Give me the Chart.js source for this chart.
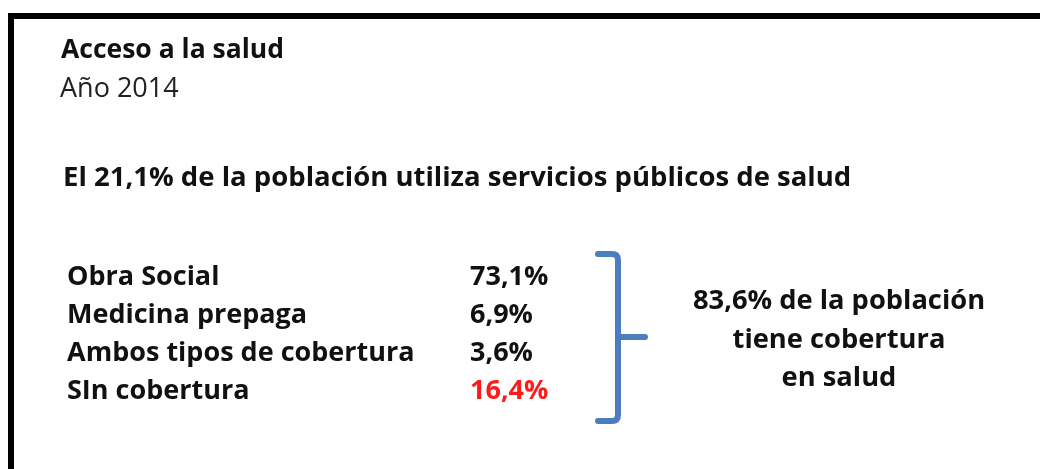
<!DOCTYPE html>
<html>
<head>
<meta charset="utf-8">
<script src="https://cdn.jsdelivr.net/npm/chart.js@4"></script>
<style>
    body { margin: 0; background: #ffffff; }
    #wrap { position: relative; width: 1040px; height: 469px; }
</style>
</head>
<body>
<div id="wrap"><canvas id="chart"></canvas></div>
<script>
const TITLE = "Acceso a la salud";
const SUBTITLE = "Año 2014";
const PUBLIC_SHARE = 21.1; // % que usa servicios públicos
const CATEGORIES = ["Obra Social", "Medicina prepaga", "Ambos tipos de cobertura", "SIn cobertura"];
const VALUES = [73.1, 6.9, 3.6, 16.4];
const COVERED = [true, true, true, false];

const FONT = "'Open Sans'";
const BLUE = "#4a7ebf";

// 73,1% style
function pct(v) {
    return v.toFixed(1).replace(".", ",") + "%";
}

// everything the bar chart itself does not draw
const infoPlugin = {
    id: "info",
    afterDraw(chart) {
        const ctx = chart.ctx;
        const area = chart.chartArea;
        const y = chart.scales.y;

        ctx.save();

        // frame
        ctx.fillStyle = "#000000";
        ctx.fillRect(8, 13, 1032, 6);
        ctx.fillRect(8, 13, 6, 456);

        // headings
        ctx.textAlign = "left";
        ctx.textBaseline = "alphabetic";
        ctx.fillStyle = "#111111";
        ctx.font = "bold 26.5px " + FONT;
        ctx.fillText(TITLE, 61, 58);
        ctx.font = "27px " + FONT;
        ctx.fillStyle = "#222222";
        ctx.fillText(SUBTITLE, 60, 97);

        ctx.fillStyle = "#111111";
        ctx.font = "bold 27.5px " + FONT;
        ctx.fillText("El " + pct(PUBLIC_SHARE) + " de la población utiliza servicios públicos de salud", 63, 186);

        // values next to each category
        ctx.font = "bold 27px " + FONT;
        ctx.textBaseline = "middle";
        for (let i = 0; i < VALUES.length; i++) {
            ctx.fillStyle = COVERED[i] ? "#111111" : "#ff1a1a";
            ctx.fillText(pct(VALUES[i]), 470, y.getPixelForValue(i));
        }

        // bracket over the covered rows
        const top = area.top - 4;
        const bottom = area.bottom + 11;
        const mid = 337;
        const bx = 618;
        ctx.strokeStyle = BLUE;
        ctx.lineWidth = 6;
        ctx.lineCap = "round";
        ctx.lineJoin = "round";
        ctx.beginPath();
        ctx.moveTo(598, top);
        ctx.lineTo(bx - 6, top);
        ctx.quadraticCurveTo(bx, top, bx, top + 6);
        ctx.lineTo(bx, bottom - 6);
        ctx.quadraticCurveTo(bx, bottom, bx - 6, bottom);
        ctx.lineTo(598, bottom);
        ctx.moveTo(bx, mid);
        ctx.lineTo(645, mid);
        ctx.stroke();

        // summary
        let covered = 0;
        for (let i = 0; i < VALUES.length; i++) {
            if (COVERED[i]) covered += VALUES[i];
        }
        ctx.fillStyle = "#111111";
        ctx.textAlign = "center";
        ctx.font = "bold 27.3px " + FONT;
        const lines = [pct(covered) + " de la población", "tiene cobertura", "en salud"];
        const lineY = [301, 340, 378];
        for (let i = 0; i < lines.length; i++) {
            ctx.fillText(lines[i], 839, lineY[i]);
        }

        ctx.restore();
    }
};

function main() {
    Chart.defaults.font.family = FONT;
    Chart.defaults.color = "#111111";

    const canvas = document.getElementById("chart").getContext("2d");

    new Chart(canvas, {
        type: "bar",
        data: {
            labels: CATEGORIES,
            datasets: [
                {
                    data: VALUES,
                    backgroundColor: "rgba(0,0,0,0)",
                    borderWidth: 0
                }
            ]
        },
        options: {
            indexAxis: "y",
            responsive: true,
            maintainAspectRatio: false,
            animation: false,
            layout: {
                padding: { left: 67, top: 258, bottom: 59, right: 60 }
            },
            plugins: {
                legend: { display: false },
                tooltip: { enabled: false }
            },
            scales: {
                x: { display: false, min: 0, max: 100 },
                y: {
                    grid: { display: false },
                    border: { display: false },
                    ticks: {
                        crossAlign: "far",
                        color: "#111111",
                        font: { size: 27, weight: "bold" }
                    }
                }
            }
        },
        plugins: [infoPlugin]
    });
}

main();
</script>
</body>
</html>
